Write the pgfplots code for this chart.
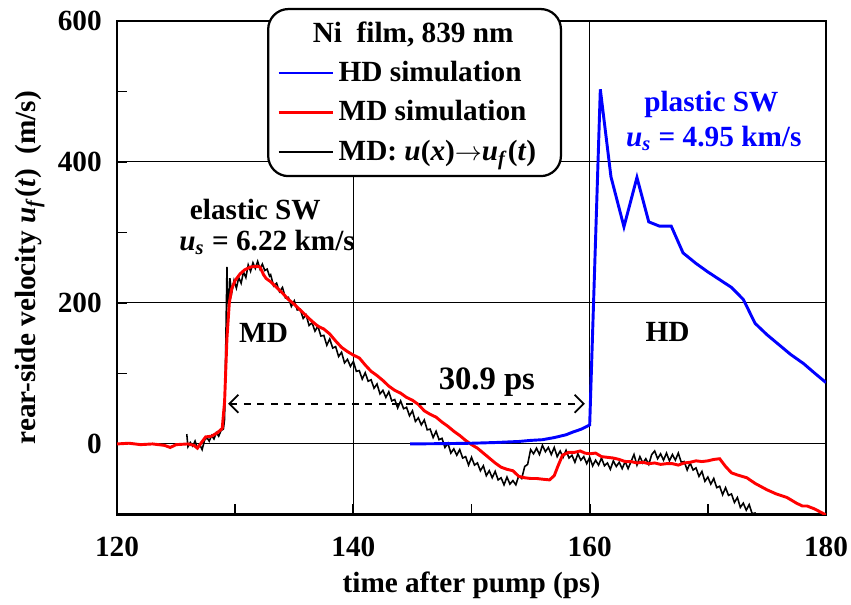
\documentclass[border=0pt]{standalone}
\usepackage{fontspec}
\setmainfont{Liberation Serif}
\usepackage{pgfplots}
\pgfplotsset{compat=1.18}
\usetikzlibrary{arrows.meta}
\newcommand\fnt{\fontsize{13}{15}\selectfont\bfseries}
\definecolor{hdblue}{RGB}{0,0,255}
\definecolor{mdred}{RGB}{255,0,0}
\begin{document}
\begin{tikzpicture}
\begin{axis}[
  scale only axis,
  width=314.9pt, height=219.2pt,
  xmin=120, xmax=180, ymin=-100, ymax=600,
  xtick={120,140,160,180}, ytick={0,200,400,600},
  minor xtick={130,150,170}, minor ytick={-100,100,300,500},
  tick pos=left, tick align=inside,
  major tick length=4.5pt, minor tick length=4.5pt,
  every tick/.style={black, line width=0.8pt},
  axis line style={line width=1pt},
  grid=major,
  major grid style={black, line width=0.45pt},
  /pgf/number format/assume math mode=true,
  tick label style={font=\fnt},
  xticklabel style={yshift=-6.5pt},
  yticklabel style={xshift=-3.3pt},
  xlabel={time after pump (ps)},
  ylabel={rear-side velocity \textit{u}\textsubscript{\textit{f}}(\textit{t})\ \ (m/s)},
  label style={font=\fnt},
  xlabel style={yshift=0pt},
  ylabel style={yshift=-1pt},
  legend style={at={(0.2116,1.0264)}, anchor=north west, font=\fnt,
    draw=black, line width=1pt, rounded corners=9pt, fill=white,
    row sep=3pt, inner xsep=4pt, inner ysep=3.5pt},
  legend cell align=left,
  reverse legend,
  legend image code/.code={\draw[#1] (0pt,0pt) -- (24pt,0pt);},
]
% MD: u(x) -> u_f(t), black noisy
\addplot[black, line width=0.7pt] coordinates {
(125.9,14) (126.0,-4) (126.2,2) (126.4,-3) (126.6,4) (126.8,-6) (127.0,-1) (127.2,-8)
(127.4,5) (127.6,9) (127.8,4) (128.0,12) (128.2,7) (128.4,16) (128.6,11) (128.8,19)
(129.0,21) (129.1,35) (129.2,140) (129.3,251) (129.35,215) (129.45,190) (129.55,235)
(129.7,214) (129.9,232) (130.1,221) (130.3,236) (130.5,228) (130.7,244) (130.9,236)
(131.1,254) (131.3,245) (131.5,257) (131.7,249) (131.9,259) (132.1,248) (132.3,255)
(132.5,246) (132.7,248) (132.9,238)
(133.00,240) (133.25,224) (133.50,228) (133.75,216) (134.00,222) (134.25,207)
(134.50,208) (134.75,195) (135.00,203) (135.25,190) (135.50,191) (135.75,178)
(136.00,183) (136.25,168) (136.50,172) (136.75,160) (137.00,167) (137.25,153)
(137.50,154) (137.75,140) (138.00,149) (138.25,136) (138.50,138) (138.75,124)
(139.00,130) (139.25,115) (139.50,120) (139.75,110) (140.00,117) (140.25,103)
(140.50,104) (140.75,92) (141.00,101) (141.25,89) (141.50,91) (141.75,79)
(142.00,85) (142.25,71) (142.50,76) (142.75,66) (143.00,74) (143.25,61)
(143.50,63) (143.75,51) (144.00,61) (144.25,50) (144.50,52) (144.75,40)
(145.00,47) (145.25,32) (145.50,37) (145.75,27) (146.00,34) (146.25,20)
(146.50,21) (146.75,9) (147.00,18) (147.25,6) (147.50,8) (147.75,-5)
(148.00,1) (148.25,-13) (148.50,-7) (148.75,-16) (149.00,-8) (149.25,-20)
(149.50,-18) (149.75,-30) (150.00,-19) (150.25,-30) (150.50,-27) (150.75,-38)
(151.00,-31) (151.25,-45) (151.50,-38) (151.75,-48) (152.00,-39) (152.25,-51)
(152.50,-48) (152.75,-58) (153.00,-47) (153.25,-57) (153.50,-52) (153.75,-58)
(154.00,-45) (154.25,-49) (154.50,-32) (154.75,-29) (155.00,-8) (155.25,-14)
(155.50,-6) (155.75,-15) (156.00,-2) (156.25,-11) (156.50,-5) (156.75,-15)
(157.00,-5) (157.25,-18) (157.50,-10) (157.75,-19) (158.00,-9) (158.25,-20)
(158.50,-16) (158.75,-26) (159.00,-14) (159.25,-23) (159.50,-18) (159.75,-28)
(160.00,-19) (160.25,-31) (160.50,-23) (160.75,-30) (161.00,-20) (161.25,-31)
(161.50,-27) (161.75,-36) (162.00,-24) (162.25,-32) (162.50,-26) (162.75,-35)
(163.00,-25) (163.25,-35) (163.50,-25) (163.75,-15) (164.00,-30) (164.25,-18)
(164.50,-27) (164.75,-21) (165.00,-29) (165.25,-15) (165.50,-10) (165.75,-21)
(166.00,-14) (166.25,-23) (166.50,-13) (166.75,-24) (167.00,-15) (167.25,-23)
(167.50,-13) (167.75,-26) (168.00,-25) (168.25,-37) (168.50,-27) (168.75,-37)
(169.00,-34) (169.25,-46) (169.50,-39) (169.75,-53) (170.00,-47) (170.25,-57)
(170.50,-49) (170.75,-62) (171.00,-60) (171.25,-72) (171.50,-62) (171.75,-73)
(172.00,-71) (172.25,-83) (172.50,-76) (172.75,-90) (173.00,-84) (173.25,-94)
(173.50,-86) (173.75,-99) (174.00,-98) (174.25,-105)
};
\addlegendentry{MD: \textit{u}(\textit{x})$\rightarrow$\textit{u}\textsubscript{\textit{f}}(\textit{t})\hspace*{5pt}}
% MD simulation, red
\addplot[mdred, line width=1.3pt] coordinates {
(120,0) (121,1) (122,-1) (123,0) (124,-2) (124.5,-5) (125,-1) (126,0) (126.5,-2)
(126.8,-6) (127.1,1) (127.5,10) (128,11) (128.5,16) (128.9,22) (129.1,60) (129.3,150)
(129.5,200) (129.7,220) (130.0,232) (130.4,241) (130.8,247) (131.3,251) (131.8,252)
(132.1,251) (132.4,240) (132.6,235) (133.0,230) (133.5,222) (134.0,214) (134.5,205)
(135.0,198) (135.5,190) (136.0,182) (136.5,174) (137.0,167) (137.5,163) (138.0,156)
(138.5,146) (139.0,137) (139.5,131) (140.0,126) (140.5,122) (141.0,112) (141.5,103)
(142.0,97) (142.5,90) (143.0,82) (143.5,76) (144.0,72) (144.5,66) (145.0,62)
(145.5,56) (146.0,47) (146.5,42) (147.0,38) (147.5,31) (148.0,25) (148.5,18)
(149.0,12) (149.5,5) (150.0,-1) (150.5,-6) (151.0,-13) (151.5,-20) (152.0,-27)
(152.5,-33) (153.0,-36) (153.5,-38) (154.0,-46) (154.5,-48) (155.0,-49) (155.5,-49)
(156.0,-50) (156.6,-51) (157.0,-45) (157.3,-32) (157.7,-16) (158.2,-12) (158.7,-12)
(159.2,-10) (159.6,-13) (160.0,-14) (160.5,-13) (161.0,-18) (161.5,-19) (162.0,-20)
(162.5,-22) (163.0,-25) (163.5,-25) (164.0,-27) (164.5,-26) (165.0,-28) (165.5,-27)
(166.0,-29) (166.5,-28) (167.0,-28) (167.5,-30) (168.0,-27) (168.5,-26) (169.0,-24)
(169.5,-25) (170.0,-24) (170.5,-22) (171.0,-21) (171.5,-32) (172.0,-41) (172.5,-44)
(173.3,-48) (174.0,-56) (175.0,-65) (175.8,-71) (176.7,-76) (177.5,-84) (178.0,-88)
(178.4,-88) (179.0,-92) (179.7,-98) (180,-101)
};
\addlegendentry{MD simulation}
% HD simulation, blue
\addplot[hdblue, line width=1.3pt] coordinates {
(144.8,0) (148,0.5) (150,1) (152,2) (154,3.5) (155,5) (156,6) (157,9) (158,13)
(158.6,17) (159.3,21) (160.0,27) (160.9,503) (161.8,379) (162.9,308) (164.0,378)
(165.0,315) (165.9,309) (166.9,309) (167.9,271) (169.0,256) (170.0,244) (171.0,233)
(172.0,222) (173.0,205) (174.0,171) (175.0,155) (176.0,141) (177.0,127) (178.1,114)
(179.0,101) (180,87)
};
\addlegendentry{HD simulation}
\addlegendimage{empty legend}
\addlegendentry{\hspace*{-11.5pt}Ni\ \ film, 839 nm}
% annotations
\draw[black, dashed, line width=0.8pt, {Straight Barb[length=4pt,width=8pt]}-{Straight Barb[length=4pt,width=8pt]}]
  (axis cs:129.4,57) -- (axis cs:159.6,57);
\node[font=\fontsize{14.5}{17}\selectfont\bfseries] at (axis cs:151.3,88) {30.9 ps};
\node[font=\fnt] at (axis cs:131.7,332) {elastic SW};
\node[font=\fnt] at (axis cs:132.7,286) {\textit{u}\textsubscript{\textit{s}} = 6.22 km/s};
\node[font=\fnt] at (axis cs:132.4,157) {MD};
\node[font=\fnt, text=hdblue] at (axis cs:170.3,482) {plastic SW};
\node[font=\fnt, text=hdblue] at (axis cs:170.5,434) {\textit{u}\textsubscript{\textit{s}} = 4.95 km/s};
\node[font=\fnt] at (axis cs:166.6,159) {HD};
\end{axis}
\pgfresetboundingbox
\path (-52pt,-40.2pt) rectangle (326pt,228.5pt);
\end{tikzpicture}
\end{document}
